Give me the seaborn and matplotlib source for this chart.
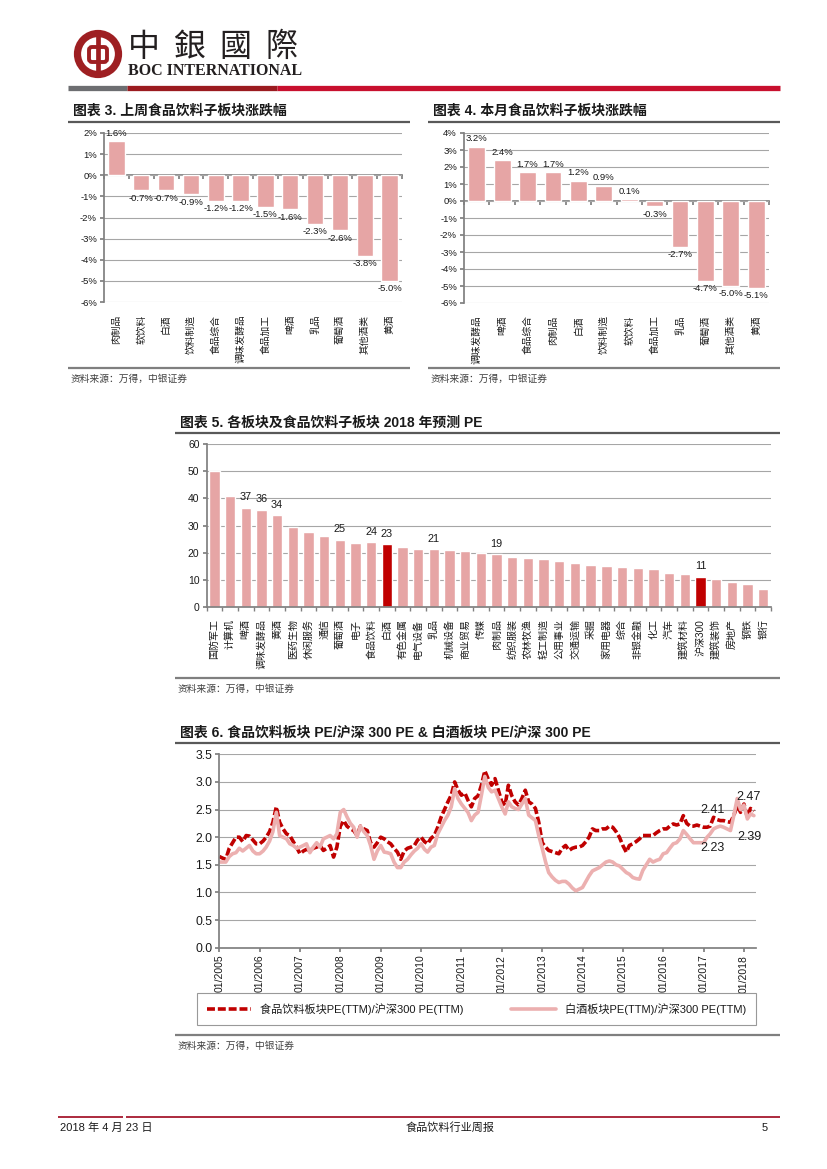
import numpy as np
import pandas as pd
import matplotlib
matplotlib.use('Agg')
import matplotlib.pyplot as plt
import matplotlib.dates as mdates
from matplotlib.lines import Line2D
from matplotlib.patches import Circle, FancyBboxPatch
from matplotlib.transforms import Affine2D
from matplotlib.ticker import FuncFormatter, MultipleLocator
import seaborn as sns

# 图表3 上周食品饮料子板块涨跌幅 (%)
wk_cats = ['肉制品', '软饮料', '白酒', '饮料制造', '食品综合', '调味发酵品',
           '食品加工', '啤酒', '乳品', '葡萄酒', '其他酒类', '黄酒']
wk_chg = [1.6, -0.7, -0.7, -0.9, -1.2, -1.2, -1.5, -1.6, -2.3, -2.6, -3.8, -5.0]

# 图表4 本月食品饮料子板块涨跌幅 (%)
mo_cats = ['调味发酵品', '啤酒', '食品综合', '肉制品', '白酒', '饮料制造',
           '软饮料', '食品加工', '乳品', '葡萄酒', '其他酒类', '黄酒']
mo_chg = [3.2, 2.4, 1.7, 1.7, 1.2, 0.9, 0.1, -0.3, -2.7, -4.7, -5.0, -5.1]

# 图表5 2018年预测PE
pe_cats = ['国防军工', '计算机', '啤酒', '调味发酵品', '黄酒', '医药生物', '休闲服务',
           '通信', '葡萄酒', '电子', '食品饮料', '白酒', '有色金属', '电气设备', '乳品',
           '机械设备', '商业贸易', '传媒', '肉制品', '纺织服装', '农林牧渔', '轻工制造',
           '公用事业', '交通运输', '采掘', '家用电器', '综合', '非银金融', '化工', '汽车',
           '建筑材料', '沪深300', '建筑装饰', '房地产', '钢铁', '银行']
pe_vals = [50.1, 40.9, 36.6, 35.8, 33.8, 29.6, 27.7, 26.3, 24.7, 23.7, 23.8, 23.0,
           22.2, 21.4, 21.2, 20.9, 20.5, 20.0, 19.4, 18.4, 18.1, 17.7, 16.8, 16.3,
           15.4, 15.2, 14.6, 14.4, 14.1, 12.6, 11.9, 11.0, 10.1, 9.1, 8.4, 6.7]
pe_marked = ['啤酒', '调味发酵品', '黄酒', '葡萄酒', '食品饮料', '白酒', '乳品', '肉制品', '沪深300']
pe_red = ['白酒', '沪深300']

# 图表6 月度读数, 2005-01 起
ratio_start = '2005-01-01'
food_ratio = [
    1.65, 1.62, 1.60, 1.80, 1.90, 2.00, 2.00, 1.92, 2.03, 2.02, 1.95, 1.88,
    1.88, 1.93, 2.00, 2.10, 2.27, 2.55, 2.27, 2.15, 2.06, 2.03, 1.92, 1.82,
    1.70, 1.75, 1.78, 1.76, 1.80, 1.82, 1.85, 1.76, 1.80, 1.85, 1.64, 1.82,
    2.20, 2.30, 2.20, 2.15, 2.12, 2.03, 2.20, 2.15, 2.12, 1.90, 1.82, 1.90,
    2.00, 1.97, 1.92, 1.88, 1.80, 1.73, 1.60, 1.75, 1.80, 1.82, 1.85, 1.95,
    2.00, 1.92, 1.88, 1.98, 2.03, 2.18, 2.36, 2.50, 2.64, 2.76, 3.00, 2.85,
    2.76, 2.80, 2.67, 2.55, 2.70, 2.75, 2.94, 3.20, 3.05, 2.94, 3.06, 2.85,
    2.64, 2.58, 2.94, 2.75, 2.64, 2.58, 2.70, 2.85, 2.64, 2.60, 2.52, 2.27,
    1.90, 1.82, 1.76, 1.74, 1.72, 1.70, 1.80, 1.85, 1.76, 1.80, 1.82, 1.82,
    1.85, 1.92, 2.00, 2.15, 2.12, 2.12, 2.15, 2.15, 2.20, 2.18, 2.10, 2.00,
    1.85, 1.73, 1.85, 1.88, 1.92, 1.97, 2.03, 2.03, 2.03, 2.03, 2.08, 2.12,
    2.15, 2.15, 2.20, 2.24, 2.22, 2.24, 2.39, 2.25, 2.20, 2.20, 2.22, 2.20,
    2.18, 2.18, 2.20, 2.36, 2.32, 2.30, 2.30, 2.28, 2.27, 2.39, 2.58, 2.45,
    2.60, 2.36, 2.52, 2.47]
baijiu_ratio = [
    1.55, 1.55, 1.55, 1.65, 1.70, 1.72, 1.80, 1.75, 1.80, 1.85, 1.75, 1.70,
    1.70, 1.75, 1.82, 1.93, 2.10, 2.45, 2.03, 2.00, 1.97, 1.88, 1.85, 1.80,
    1.82, 1.85, 1.88, 1.72, 1.82, 1.90, 1.82, 1.97, 2.00, 2.03, 1.97, 2.06,
    2.45, 2.50, 2.37, 2.25, 2.18, 2.00, 2.20, 2.10, 2.03, 1.85, 1.60, 1.75,
    1.85, 1.73, 1.72, 1.70, 1.55, 1.45, 1.45, 1.55, 1.60, 1.68, 1.75, 1.80,
    1.88, 1.78, 1.73, 1.82, 1.85, 2.06, 2.18, 2.30, 2.40, 2.55, 2.88, 2.70,
    2.60, 2.52, 2.45, 2.30, 2.40, 2.45, 2.76, 3.10, 2.90, 2.82, 2.85, 2.70,
    2.55, 2.42, 2.64, 2.55, 2.52, 2.50, 2.60, 2.70, 2.40, 2.35, 2.30, 2.03,
    1.80, 1.55, 1.36, 1.28, 1.22, 1.18, 1.20, 1.20, 1.15, 1.08, 1.03, 1.06,
    1.09, 1.20, 1.30, 1.39, 1.42, 1.45, 1.50, 1.55, 1.57, 1.55, 1.50, 1.48,
    1.42, 1.36, 1.33, 1.27, 1.25, 1.24, 1.40, 1.50, 1.60, 1.55, 1.58, 1.60,
    1.70, 1.72, 1.80, 1.88, 1.90, 1.97, 2.12, 2.05, 1.97, 1.90, 1.90, 1.90,
    1.90, 2.00, 2.06, 2.15, 2.18, 2.20, 2.18, 2.15, 2.12, 2.39, 2.70, 2.50,
    2.58, 2.33, 2.42, 2.39]
food_label = '食品饮料板块PE(TTM)/沪深300 PE(TTM)'
baijiu_label = '白酒板块PE(TTM)/沪深300 PE(TTM)'
ratio_notes = [('2017-03-20', 2.49, '2.41'), ('2017-03-20', 1.80, '2.23'),
               ('2018-02-15', 2.73, '2.47'), ('2018-02-20', 2.01, '2.39')]

SRC = '资料来源：万得，中银证券'

RED = '#C00000'
PINK = '#E6A5A5'
PINK_LINE = '#ECB0B0'
GRID = '#A6A6A6'
AXC = '#808080'
TXT = '#1A1A1A'

sns.set_theme(style='white')
plt.rcParams['font.family'] = ['Liberation Sans', 'Noto Sans CJK SC', 'DejaVu Sans']
plt.rcParams['axes.unicode_minus'] = False
plt.rcParams['text.color'] = TXT
plt.rcParams['xtick.color'] = TXT
plt.rcParams['ytick.color'] = TXT

W, H = 827, 1169
fig = plt.figure(figsize=(W / 100, H / 100), dpi=100)
px = Affine2D().scale(1 / W, -1 / H).translate(0, 1) + fig.transFigure


def axes_at(x0, y0, x1, y1):
    return fig.add_axes([x0 / W, 1 - y1 / H, (x1 - x0) / W, (y1 - y0) / H])


def hline(x0, x1, y, color, lw):
    fig.add_artist(Line2D([x0, x1], [y, y], transform=px, color=color, lw=lw,
                          solid_capstyle='butt'))


def text(x, y, s, **kw):
    fig.text(x, y, s, transform=px, **kw)


def frame(x0, x1, y_title, y_line, y_src_line, y_src, title):
    text(x0 + 5, y_title, title, fontsize=10, fontweight='bold', va='center')
    hline(x0, x1, y_line, '#595959', 1.6)
    hline(x0, x1, y_src_line, '#7F7F7F', 1.6)
    text(x0 + 3, y_src, SRC, fontsize=7, color='#404040', va='center')


# ---- header ----
logo_c = '#9E1F22'
fig.add_artist(Circle((98, 54), 20.5, transform=px, fill=False, ec=logo_c, lw=5.2))
fig.add_artist(FancyBboxPatch((89, 47), 18, 15, boxstyle='round,pad=0,rounding_size=3',
                              transform=px, fill=False, ec=logo_c, lw=2.8))
fig.add_artist(Line2D([98, 98], [33, 75], transform=px, color=logo_c, lw=3.4))
for cx, ch in zip([144, 189, 235, 282], ['中', '銀', '國', '際']):
    text(cx, 47, ch, fontsize=23, ha='center', va='center',
         family=['Noto Sans CJK TC'], color='#231F20')
text(128, 71, 'BOC INTERNATIONAL', fontsize=11.5, fontweight='bold',
     family=['Liberation Serif'], va='center', color='#231F20')
hline(68, 127, 87.5, '#6D6E71', 3.8)
hline(127, 277, 87.5, '#9B1B20', 3.8)
hline(277, 780, 87.5, '#C8102E', 3.8)


# ---- 图表3 / 图表4 ----
def pct_bars(ax, cats, vals, ylo, yhi):
    sns.barplot(x=cats, y=vals, color=PINK, saturation=1, width=0.66, ax=ax)
    ax.bar_label(ax.containers[0], fmt='%.1f%%', padding=2.5, fontsize=6.8)
    ax.set_ylim(ylo, yhi)
    ax.set_xlim(-0.5, len(cats) - 0.5)
    ax.yaxis.set_major_locator(MultipleLocator(1))
    ax.yaxis.set_major_formatter(FuncFormatter(lambda v, p: f'{v:.0f}%'))
    ax.grid(axis='y', color=GRID, lw=0.8)
    ax.set_axisbelow(True)
    for s in ['top', 'right', 'bottom']:
        ax.spines[s].set_visible(False)
    ax.spines['left'].set_color(AXC)
    ax.tick_params(axis='y', left=True, length=3, color=AXC, labelsize=6.8, pad=2)
    ax.tick_params(axis='x', bottom=False, labelsize=7, rotation=90, pad=3)
    ax.set_xlabel('')
    zero = ax.secondary_xaxis((0 - ylo) / (yhi - ylo))
    zero.set_xticks(np.arange(len(cats) + 1) - 0.5)
    zero.tick_params(direction='in', length=3, color=AXC, labeltop=False,
                     labelbottom=False)
    for s in zero.spines.values():
        s.set_color(AXC)


frame(68, 410, 111, 121.5, 368, 379, '图表 3. 上周食品饮料子板块涨跌幅')
ax3 = axes_at(104, 133, 402, 302)
pct_bars(ax3, wk_cats, wk_chg, -6, 2)

frame(428, 780, 111, 121.5, 368, 379, '图表 4. 本月食品饮料子板块涨跌幅')
ax4 = axes_at(464, 133, 769, 303)
pct_bars(ax4, mo_cats, mo_chg, -6, 4)

# ---- 图表5 ----
frame(175, 780, 422.5, 432.7, 678, 689, '图表 5. 各板块及食品饮料子板块 2018 年预测 PE')
ax5 = axes_at(206.5, 444.3, 771, 606.7)
pe_colors = [RED if c in pe_red else PINK for c in pe_cats]
sns.barplot(x=pe_cats, y=pe_vals, hue=pe_cats, palette=pe_colors, legend=False,
            saturation=1, width=0.66, ax=ax5)
for i, (c, v) in enumerate(zip(pe_cats, pe_vals)):
    if c in pe_marked:
        ax5.annotate(f'{v:.0f}', (i, v), xytext=(0, 4), textcoords='offset points',
                     ha='center', va='bottom', fontsize=7.8)
ax5.set_ylim(0, 60)
ax5.set_xlim(-0.5, len(pe_cats) - 0.5)
ax5.yaxis.set_major_locator(MultipleLocator(10))
ax5.grid(axis='y', color=GRID, lw=0.8)
ax5.set_axisbelow(True)
for s in ['top', 'right']:
    ax5.spines[s].set_visible(False)
for s in ['left', 'bottom']:
    ax5.spines[s].set_color(AXC)
ax5.set_xticks(np.arange(len(pe_cats) + 1) - 0.5, minor=True)
ax5.tick_params(axis='x', which='minor', bottom=True, length=3, color=AXC)
ax5.tick_params(axis='x', which='major', bottom=False, labelsize=7.2, rotation=90, pad=3)
ax5.tick_params(axis='y', left=True, length=3, color=AXC, labelsize=7.5, pad=2)
ax5.set_xlabel('')

# ---- 图表6 ----
frame(175, 780, 732.7, 742.7, 1035, 1046,
      '图表 6. 食品饮料板块 PE/沪深 300 PE & 白酒板块 PE/沪深 300 PE')
ax6 = axes_at(219.3, 754.3, 756, 947.7)
dates = pd.date_range(ratio_start, periods=len(food_ratio), freq='MS')
sns.lineplot(x=dates, y=food_ratio, color=RED, lw=2.6, linestyle=(0, (2.2, 0.8)),
             label=food_label, legend=False, ax=ax6)
sns.lineplot(x=dates, y=baijiu_ratio, color=PINK_LINE, lw=2.6,
             label=baijiu_label, legend=False, ax=ax6)
for d, v, s in ratio_notes:
    ax6.text(pd.Timestamp(d), v, s, ha='center', va='center', fontsize=9)
ax6.set_ylim(0, 3.5)
ax6.set_xlim(pd.Timestamp('2005-01-01'), pd.Timestamp('2018-04-20'))
ax6.yaxis.set_major_locator(MultipleLocator(0.5))
ax6.yaxis.set_major_formatter(FuncFormatter(lambda v, p: f'{v:.1f}'))
ax6.xaxis.set_major_locator(mdates.YearLocator())
ax6.xaxis.set_major_formatter(mdates.DateFormatter('%m/%Y'))
ax6.grid(axis='y', color=GRID, lw=0.8)
ax6.set_axisbelow(True)
for s in ['top', 'right']:
    ax6.spines[s].set_visible(False)
for s in ['left', 'bottom']:
    ax6.spines[s].set_color(AXC)
ax6.tick_params(axis='x', bottom=True, length=3, color=AXC, labelsize=7.5, rotation=90, pad=2)
ax6.tick_params(axis='y', left=True, length=3, color=AXC, labelsize=8.8, pad=2)
ax6.set_xlabel('')
ax6.set_ylabel('')
handles, labels = ax6.get_legend_handles_labels()
leg = fig.legend(handles, labels, loc='center', ncol=2, mode='expand',
                 bbox_to_anchor=(197 / W, 1 - 1024 / H, 559 / W, 30 / H),
                 frameon=True, fancybox=False, edgecolor='#808080', fontsize=8,
                 handlelength=4, borderaxespad=0, borderpad=0.9, columnspacing=3)
leg.get_frame().set_linewidth(0.8)

# ---- footer ----
hline(58, 123, 1117, '#A6192E', 1.3)
hline(126, 780, 1117, '#A6192E', 1.3)
text(60, 1128, '2018 年 4 月 23 日', fontsize=8, va='center')
text(450, 1128, '食品饮料行业周报', fontsize=8, va='center', ha='center')
text(768, 1128, '5', fontsize=8, va='center', ha='right')

fig.savefig('out.png', dpi=100)
